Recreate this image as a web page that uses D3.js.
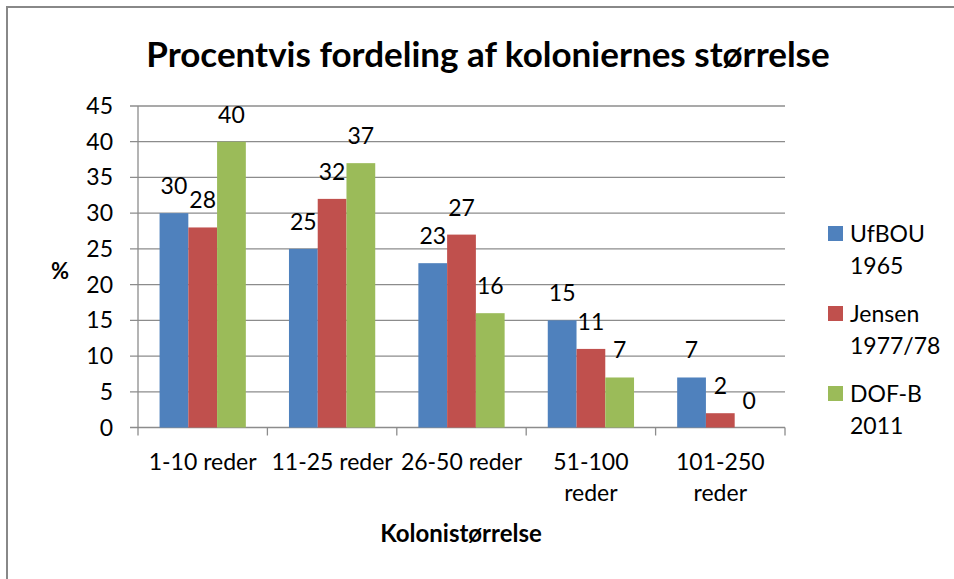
<!DOCTYPE html>
<html>
<head>
<meta charset="utf-8">
<script src="https://cdn.jsdelivr.net/npm/d3@7"></script>
<style>
  body { margin: 0; background: #fff; }
  svg text { font-family: Lato, "Open Sans", sans-serif; fill: #000; }
</style>
</head>
<body>
<div id="plot"></div>
<script>
// chart data
const categories = ["1-10 reder", "11-25 reder", "26-50 reder", "51-100\nreder", "101-250\nreder"];
const seriesNames = ["UfBOU\n1965", "Jensen\n1977/78", "DOF-B\n2011"];
const ufbou = [30, 25, 23, 15, 7];
const jensen = [28, 32, 27, 11, 2];
const dofb = [40, 37, 16, 7, 0];
const yTicks = [0, 5, 10, 15, 20, 25, 30, 35, 40, 45];

const colors = ["#4f81bd", "#c0504d", "#9bbb59"];
const allSeries = [ufbou, jensen, dofb];

const width = 954;
const height = 579;
const plotLeft = 138, plotRight = 785, plotTop = 106, plotBottom = 427.5;
const fontSize = "23px";

const svg = d3.select("div#plot")
  .append("svg")
  .attr("width", width)
  .attr("height", height);

// outer chart border (only top and left show in the crop)
svg.append("path")
  .attr("d", "M7,579 V7 H954")
  .attr("fill", "none")
  .attr("stroke", "#888")
  .attr("stroke-width", 2);

const x = d3.scaleBand()
  .domain(categories)
  .range([plotLeft, plotRight]);

// excel gap width 150% -> 3 bars + 1.5 bar of gap per category
const barW = x.bandwidth() / 4.5;

const y = d3.scaleLinear()
  .domain([0, 45])
  .range([plotBottom, plotTop]);

// gridlines
svg.append("g")
  .selectAll("line")
  .data(yTicks)
  .enter().append("line")
  .attr("x1", plotLeft - 8)
  .attr("x2", plotRight)
  .attr("y1", d => y(d))
  .attr("y2", d => y(d))
  .attr("stroke", "#8c8c8c")
  .attr("stroke-width", 1.3);

// y axis line
svg.append("line")
  .attr("x1", plotLeft).attr("x2", plotLeft)
  .attr("y1", plotTop).attr("y2", plotBottom)
  .attr("stroke", "#8c8c8c").attr("stroke-width", 1.3);

// x category tick marks
const boundaries = categories.map(c => x(c)).concat([plotRight]);
svg.append("g")
  .selectAll("line")
  .data(boundaries)
  .enter().append("line")
  .attr("x1", d => d).attr("x2", d => d)
  .attr("y1", plotBottom).attr("y2", plotBottom + 8)
  .attr("stroke", "#8c8c8c").attr("stroke-width", 1.3);

// y tick labels
svg.append("g")
  .selectAll("text")
  .data(yTicks)
  .enter().append("text")
  .attr("x", 113)
  .attr("y", d => y(d) + 8)
  .attr("text-anchor", "end")
  .style("font-size", fontSize)
  .text(d => d);

// bars
allSeries.forEach((vals, s) => {
  const g = svg.append("g");
  g.selectAll("rect")
    .data(vals)
    .enter().append("rect")
    .attr("x", (d, i) => x(categories[i]) + barW * (0.75 + s))
    .attr("y", d => y(d))
    .attr("width", barW)
    .attr("height", d => plotBottom - y(d))
    .attr("fill", colors[s]);

  g.selectAll("text")
    .data(vals)
    .enter().append("text")
    .attr("x", (d, i) => x(categories[i]) + barW * (1.25 + s))
    .attr("y", d => y(d) - 19)
    .attr("text-anchor", "middle")
    .style("font-size", fontSize)
    .text(d => d);
});

// x category labels
const xl = svg.append("g")
  .selectAll("text")
  .data(categories)
  .enter().append("text")
  .attr("x", d => x(d) + x.bandwidth() / 2)
  .attr("y", 470)
  .attr("text-anchor", "middle")
  .style("font-size", fontSize);
xl.selectAll("tspan")
  .data(d => d.split("\n").map(t => ({t, c: d})))
  .enter().append("tspan")
  .attr("x", d => x(d.c) + x.bandwidth() / 2)
  .attr("dy", (d, i) => i === 0 ? 0 : 31)
  .text(d => d.t);

// title
svg.append("text")
  .attr("x", 488)
  .attr("y", 67)
  .attr("text-anchor", "middle")
  .style("font-size", "35px")
  .style("font-weight", "bold")
  .text("Procentvis fordeling af koloniernes størrelse");

// axis titles
svg.append("text")
  .attr("x", 60).attr("y", 279)
  .attr("text-anchor", "middle")
  .style("font-size", "22px")
  .style("font-weight", "bold")
  .text("%");

svg.append("text")
  .attr("x", 461).attr("y", 542)
  .attr("text-anchor", "middle")
  .style("font-size", "24px")
  .style("font-weight", "bold")
  .text("Kolonistørrelse");

// legend
const legend = svg.append("g")
  .selectAll("g")
  .data(seriesNames)
  .enter().append("g")
  .attr("transform", (d, i) => `translate(828, ${242 + i * 80})`);

legend.append("rect")
  .attr("x", 0).attr("y", -16)
  .attr("width", 15).attr("height", 15)
  .attr("fill", (d, i) => colors[i]);

legend.append("text")
  .attr("x", 22)
  .style("font-size", fontSize)
  .selectAll("tspan")
  .data(d => d.split("\n"))
  .enter().append("tspan")
  .attr("x", 22)
  .attr("dy", (d, i) => i === 0 ? 0 : 32)
  .text(d => d);
</script>
</body>
</html>
